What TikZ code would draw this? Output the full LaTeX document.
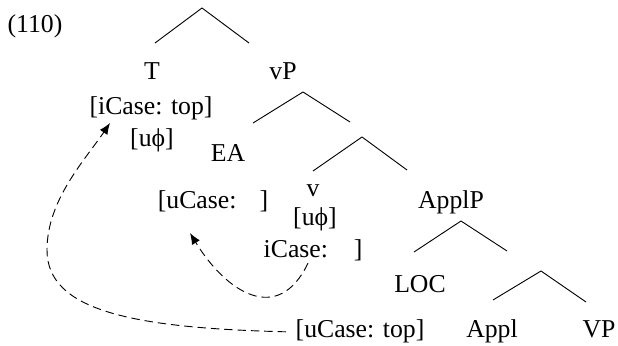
\documentclass[tikz,border=0pt]{standalone}
\usepackage{fontspec}
\setmainfont{Liberation Serif}
\usetikzlibrary{calc,positioning,arrows.meta}

\begin{document}
\begin{tikzpicture}[x=0.025cm,y=-0.025cm]

     \tikzstyle{every node}=[inner sep=1pt,anchor=base,font=\fontsize{18.3}{20}\selectfont]
     \tikzstyle{branch}=[line width=0.65pt]
     \tikzstyle{agree}=[line width=0.65pt,dash pattern=on 6pt off 3.5pt,-{Latex[length=8pt,width=6.5pt]}]
     \useasboundingbox (0,0) rectangle (618,346);

     \node at (35,33)(ex){(110)};
     % branching points
     \coordinate (top) at (202,8);
     \coordinate (vPtop) at (303,92);
     \coordinate (vbartop) at (362,137);
     \coordinate (ApplPtop) at (461,221);
     \coordinate (Applbartop) at (541,271);
     \coordinate (top1) at ($(top)+(-47,35)$);
     \coordinate (top2) at ($(top)+(47,35)$);
     \coordinate (vP1) at ($(vPtop)+(-50,31)$);
     \coordinate (vP2) at ($(vPtop)+(47,30)$);
     \coordinate (vbar1) at ($(vbartop)+(-49,34)$);
     \coordinate (vbar2) at ($(vbartop)+(45,33)$);
     \coordinate (ApplP1) at ($(ApplPtop)+(-47,31)$);
     \coordinate (ApplP2) at ($(ApplPtop)+(46,30)$);
     \coordinate (Applbar1) at ($(Applbartop)+(-48,29)$);
     \coordinate (Applbar2) at ($(Applbartop)+(45,31)$);
     \path[branch](top)edge(top1)edge(top2);
     \path[branch](vPtop)edge(vP1)edge(vP2);
     \path[branch](vbartop)edge(vbar1)edge(vbar2);
     \path[branch](ApplPtop)edge(ApplP1)edge(ApplP2);
     \path[branch](Applbartop)edge(Applbar1)edge(Applbar2);

     % labels
     \node at (152,80)(T){T};
     \node at (151,115)(Tcase){[iCase: top]};
     \node at (152,147)(Tphi){[uϕ]};
     \node at (283,80)(vP){vP};
     \node at (228,162)(EA){EA};
     \node at (213,209)(EAcase){[uCase:\hspace{0.9em}]};
     \node at (313,197)(v){v};
     \node at (315,226)(vphi){[uϕ]};
     \node at (313,258)(vcase){iCase:\hspace{1em}]};
     \node at (451,209)(ApplP){ApplP};
     \node at (420,293)(LOC){LOC};
     \node at (360,338)(LOCcase){[uCase: top]};
     \node at (492,338)(Appl){Appl};
     \node at (599,338)(VP){VP};

     % agreement arrows
     \coordinate (tipT) at (110,123);
     \coordinate (tipEA) at (190,233);
     \draw[agree]($(LOCcase.west)+(-8,0)$) .. controls (130,328) and (47,310) .. (47,250)
        .. controls (47,200) and (85,160) .. (tipT);
     \draw[agree]($(vcase.south)+(-5,0)$) .. controls (278,326) and (226,292) .. (tipEA);

\end{tikzpicture}
\end{document}
